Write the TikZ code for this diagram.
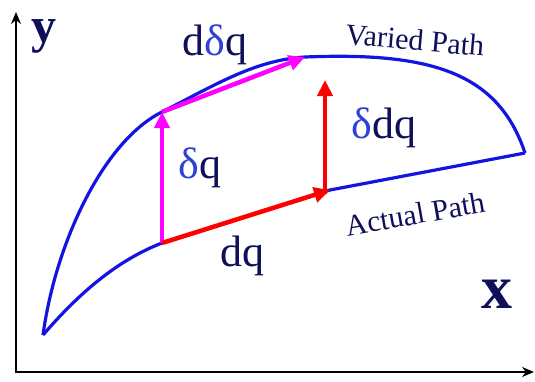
\documentclass[tikz,border=0pt]{standalone}
\usepackage{fontspec}
\setmainfont{Liberation Serif}
\usetikzlibrary{arrows.meta}
\definecolor{navy}{RGB}{15,15,90}
\definecolor{dblue}{RGB}{45,65,215}
\definecolor{pblue}{RGB}{20,20,225}
\definecolor{mgnt}{RGB}{255,0,255}
\definecolor{rd}{RGB}{255,0,0}
\newcommand{\dl}{\textcolor{dblue}{δ}}

\begin{document}
\begin{tikzpicture}[
  x=1pt,y=-1pt,
  every node/.style={text=navy,inner sep=0pt},
  pth/.style={draw=pblue,line width=3.2pt,line join=round},
  ax/.style={draw=black,line width=1.6pt,{Stealth[length=12pt,width=10pt]}-{Stealth[length=12pt,width=10pt]}},
  vec/.style={line width=4.5pt,-{Triangle[length=16pt,width=15pt]}},
  big/.style={font=\fontsize{44}{46}\selectfont},
  sml/.style={font=\fontsize{30}{32}\selectfont}]
\useasboundingbox (0,0) rectangle (535,381);

% ---- axes ----
\coordinate (org)  at (16,372);
\coordinate (ytip) at (16,12);
\coordinate (xtip) at (534,372);
\draw[ax] (ytip) -- (org) -- (xtip);
\node[font=\bfseries\fontsize{50}{52}\selectfont] (ylab) at (44,36) {y};
\node[font=\bfseries\fontsize{62}{64}\selectfont] (xlab) at (497,294) {x};

% ---- the two paths ----
\coordinate (cusp) at (43,335);
\coordinate (pa)   at (162,243);
\coordinate (pb)   at (330,190);
\coordinate (va)   at (162,112);
\coordinate (vb)   at (305,57);
\coordinate (tip)  at (525,153);
\draw[pth] (cusp) .. controls (56,240) and (105,140) .. (va)
  .. controls (215,85) and (255,60) .. (vb)
  .. controls (430,52) and (498,72) .. (tip);
\draw[pth] (cusp) .. controls (80,292) and (118,260) .. (pa)
  -- (pb) -- (tip);

% ---- variations ----
\coordinate (rt) at (325,80);
\coordinate (rb) at (325,194);
\draw[vec,mgnt] (pa) -- (va);
\draw[vec,mgnt] (va) -- (vb);
\draw[vec,rd] (pa) -- (pb);
\draw[vec,rd] (rb) -- (rt);

% ---- labels ----
\node[big] (ldelq) at (215,45) {d\dl q};
\node[big] (lvq)   at (200,168) {\dl q};
\node[big] (ldq)   at (384,128) {\dl dq};
\node[big] (lq)    at (242,256) {dq};
\node[sml,rotate=-5] (lvar) at (415,40)  {Varied Path};
\node[sml,rotate=10] (lact) at (415,214) {Actual Path};
\end{tikzpicture}
\end{document}
